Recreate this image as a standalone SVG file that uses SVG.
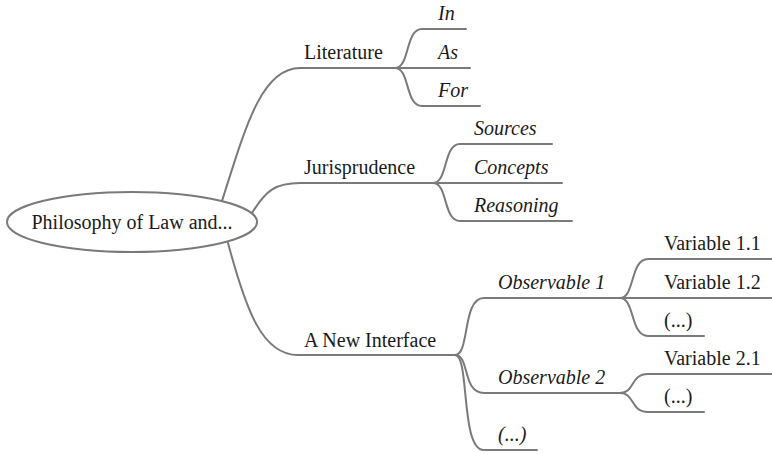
<svg xmlns="http://www.w3.org/2000/svg" width="772" height="454" viewBox="0 0 772 454">
  <style>
    .edge { fill: none; stroke: #7a7a7a; stroke-width: 2; stroke-linecap: round; }
    .lbl { font-size: 20px; fill: #1a1a1a; }
    .it { font-style: italic; }
    .root { fill: #ffffff; stroke: #7a7a7a; stroke-width: 2; }
  </style>
  <rect width="772" height="454" fill="#ffffff"/>

  <!-- branch connectors -->
  <g id="connectors">
    <!-- root to first level -->
    <path class="edge" d="M222,201 C246,125 262,68 300,68 L395,68"/>
    <path class="edge" d="M252,213 C266,190 276,183 300,183 L433,183"/>
    <path class="edge" d="M228,243 C246,310 262,355 298,355 L455,355"/>

    <!-- Literature -->
    <path class="edge" d="M395,68 C410,68 405,29 422,29 L466,29"/>
    <path class="edge" d="M395,68 L470,68"/>
    <path class="edge" d="M395,68 C410,68 405,106 422,106 L480,106"/>

    <!-- Jurisprudence -->
    <path class="edge" d="M433,183 C448,183 443,144 460,144 L552,144"/>
    <path class="edge" d="M433,183 L562,183"/>
    <path class="edge" d="M433,183 C448,183 443,221 460,221 L572,221"/>

    <!-- A New Interface -->
    <path class="edge" d="M455,355 C470,355 462,298 484,298 L620,298"/>
    <path class="edge" d="M455,355 C470,355 462,393 484,393 L620,393"/>
    <path class="edge" d="M455,355 C470,355 460,450 484,450 L537,450"/>

    <!-- Observable 1 -->
    <path class="edge" d="M620,298 C635,298 630,259 648,259 L772,259"/>
    <path class="edge" d="M620,298 L772,298"/>
    <path class="edge" d="M620,298 C635,298 630,336 648,336 L704,336"/>

    <!-- Observable 2 -->
    <path class="edge" d="M620,393 C635,393 630,374 648,374 L772,374"/>
    <path class="edge" d="M620,393 C635,393 630,412 648,412 L704,412"/>
  </g>

  <g font-family="Liberation Serif, DejaVu Serif, serif">
    <g id="root">
      <ellipse class="root" cx="132" cy="222" rx="125" ry="30"/>
      <text class="lbl" x="132" y="229" text-anchor="middle">Philosophy of Law and...</text>
    </g>

    <g id="literature"><text class="lbl" x="304" y="59">Literature</text></g>
    <g id="lit-in"><text class="lbl it" x="438" y="20">In</text></g>
    <g id="lit-as"><text class="lbl it" x="438" y="59">As</text></g>
    <g id="lit-for"><text class="lbl it" x="438" y="97">For</text></g>

    <g id="jurisprudence"><text class="lbl" x="304" y="174">Jurisprudence</text></g>
    <g id="jur-sources"><text class="lbl it" x="474" y="135">Sources</text></g>
    <g id="jur-concepts"><text class="lbl it" x="474" y="174">Concepts</text></g>
    <g id="jur-reasoning"><text class="lbl it" x="474" y="212">Reasoning</text></g>

    <g id="interface"><text class="lbl" x="304" y="347">A New Interface</text></g>
    <g id="obs1"><text class="lbl it" x="498" y="289">Observable 1</text></g>
    <g id="obs2"><text class="lbl it" x="498" y="384">Observable 2</text></g>
    <g id="obs-more"><text class="lbl it" x="498" y="441">(...)</text></g>

    <g id="var11"><text class="lbl" x="664" y="250">Variable 1.1</text></g>
    <g id="var12"><text class="lbl" x="664" y="289">Variable 1.2</text></g>
    <g id="var1-more"><text class="lbl" x="664" y="327">(...)</text></g>
    <g id="var21"><text class="lbl" x="664" y="365">Variable 2.1</text></g>
    <g id="var2-more"><text class="lbl" x="664" y="403">(...)</text></g>
  </g>
</svg>
